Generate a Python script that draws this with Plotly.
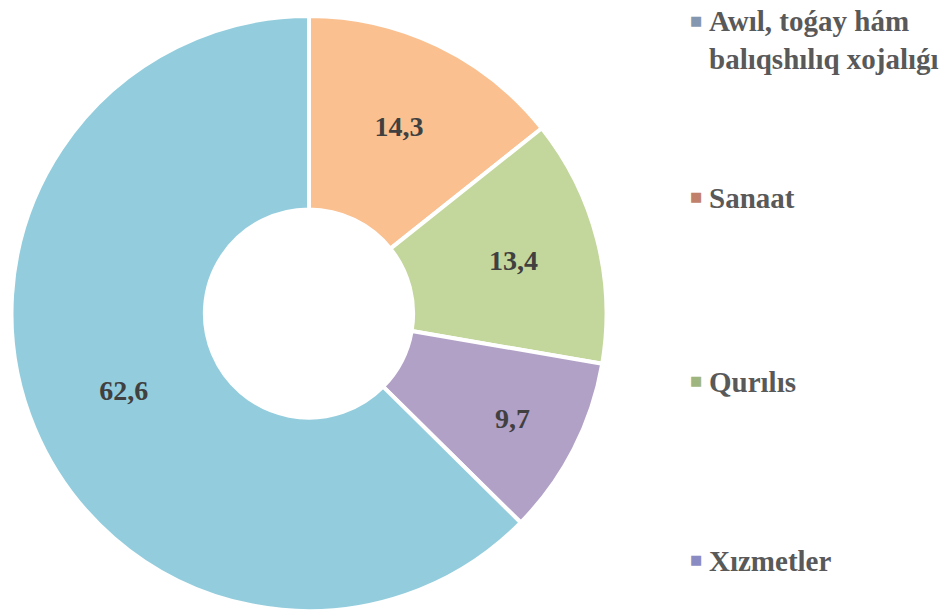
import plotly.graph_objects as go

slice_names = ["Sanaat", "Qurılıs", "Xızmetler", "Awıl, toǵay hám balıqshılıq xojalıǵı"]
slice_values = [14.3, 13.4, 9.7, 62.6]
slice_colors = ["#FAC090", "#C3D69B", "#B2A1C7", "#93CDDD"]

legend_labels = ["Awıl, toǵay hám<br>balıqshılıq xojalıǵı", "Sanaat", "Qurılıs", "Xızmetler"]
legend_colors = ["#8497B0", "#C0806A", "#9FB57F", "#8B8BC4"]
legend_y_px = [40, 198, 382, 561]  # vertical centers of legend entries (px from top)

W, H = 945, 611

fig = go.Figure()
fig.add_trace(go.Pie(
    labels=slice_names,
    values=slice_values,
    sort=False,
    direction="clockwise",
    rotation=0,
    hole=0.35,
    marker=dict(colors=slice_colors, line=dict(color="white", width=4)),
    texttemplate="%{value:.1f}",
    textposition="inside",
    insidetextorientation="horizontal",
    textfont=dict(family="Liberation Serif", size=28, color="#404040", weight="bold"),
    domain=dict(x=[(309 - 299) / W, (309 + 299) / W], y=[0.0, 1 - 16 / H]),
    showlegend=False,
    hoverinfo="label+value",
))

annotations = []
for lab, col, yp in zip(legend_labels, legend_colors, legend_y_px):
    y = 1 - yp / H
    annotations.append(dict(
        x=707 / W, y=y, xref="paper", yref="paper",
        xanchor="left", yanchor="middle", align="left",
        text=lab, showarrow=False,
        font=dict(family="Liberation Serif", size=29, color="#595959", weight="bold"),
    ))
    nlines = lab.count("<br>") + 1
    my = yp - (nlines - 1) * 36 / 2 - 2
    annotations.append(dict(
        x=696 / W, y=1 - my / H, xref="paper", yref="paper",
        xanchor="center", yanchor="middle",
        text="■", showarrow=False,
        font=dict(family="DejaVu Sans", size=13, color=col),
    ))

fig.update_layout(
    width=W, height=H,
    margin=dict(l=0, r=0, t=0, b=0),
    paper_bgcolor="white",
    plot_bgcolor="white",
    separators=", ",
    annotations=annotations,
)

fig.write_html("out.html", config={"displayModeBar": False},
               post_script="document.body.style.margin='0';")
